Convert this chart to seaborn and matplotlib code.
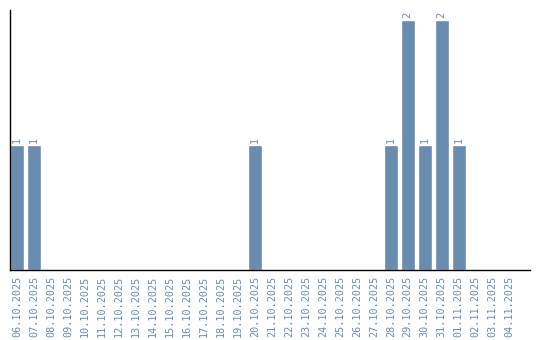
import matplotlib
matplotlib.use("Agg")
import matplotlib.pyplot as plt
import seaborn as sns
import pandas as pd

dates = ["06.10.2025", "07.10.2025", "08.10.2025", "09.10.2025", "10.10.2025",
         "11.10.2025", "12.10.2025", "13.10.2025", "14.10.2025", "15.10.2025",
         "16.10.2025", "17.10.2025", "18.10.2025", "19.10.2025", "20.10.2025",
         "21.10.2025", "22.10.2025", "23.10.2025", "24.10.2025", "25.10.2025",
         "26.10.2025", "27.10.2025", "28.10.2025", "29.10.2025", "30.10.2025",
         "31.10.2025", "01.11.2025", "02.11.2025", "03.11.2025", "04.11.2025"]
counts = [1, 1, 0, 0, 0, 0, 0, 0, 0, 0, 0, 0, 0, 0, 1,
          0, 0, 0, 0, 0, 0, 0, 1, 2, 1, 2, 1, 0, 0, 0]

color = "#6a8caf"
sns.set_style("white")
plt.rcParams['font.family'] = ['DejaVu Sans Mono', 'DejaVu Sans']

df = pd.DataFrame({"date": dates, "count": counts})
fig = plt.figure(figsize=(5.4, 3.4), dpi=100)
ax = fig.add_axes([10/540, 70/340, 520/540, 260/340])
sns.barplot(data=df, x="date", y="count", color=color, saturation=1,
            width=0.84, ax=ax, order=dates)

for i, v in enumerate(counts):
    if v > 0:
        ax.text(i, v + 0.02, str(v), rotation=90, ha="center", va="bottom",
                fontsize=7.3, color=color)

ax.set_xlim(-0.41, 30.2)
ax.set_ylim(0, 2.08)
ax.set_xlabel("")
ax.set_ylabel("")
ax.set_yticks([])
ax.set_xticks(range(len(dates)))
ax.set_xticklabels(dates, rotation=90, fontsize=7.3, color=color)
ax.tick_params(axis="x", length=0, pad=4)
for s in ["top", "right"]:
    ax.spines[s].set_visible(False)
for s in ["left", "bottom"]:
    ax.spines[s].set_color("black")
    ax.spines[s].set_linewidth(1)

fig.savefig("out.png", dpi=100)
